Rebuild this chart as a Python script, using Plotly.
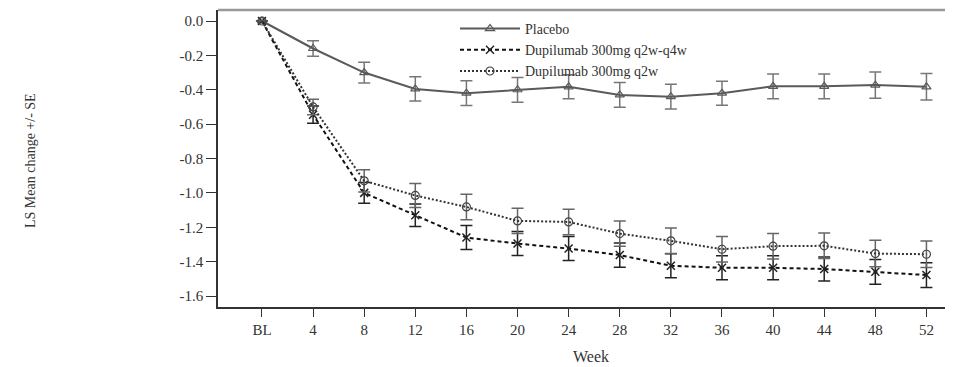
import plotly.graph_objects as go

weeks = ["BL", "4", "8", "12", "16", "20", "24", "28", "32", "36", "40", "44", "48", "52"]

placebo = [0.0, -0.16, -0.30, -0.395, -0.42, -0.40, -0.383, -0.43, -0.44, -0.42, -0.38, -0.38, -0.373, -0.383]
placebo_se = [0.0, 0.045, 0.06, 0.07, 0.072, 0.072, 0.07, 0.072, 0.072, 0.07, 0.072, 0.072, 0.077, 0.077]

q2w_q4w = [0.0, -0.545, -1.00, -1.13, -1.26, -1.295, -1.324, -1.362, -1.424, -1.436, -1.436, -1.443, -1.459, -1.478]
q2w_q4w_se = [0.0, 0.05, 0.06, 0.065, 0.07, 0.07, 0.07, 0.07, 0.07, 0.07, 0.07, 0.07, 0.072, 0.072]

q2w = [0.0, -0.50, -0.93, -1.015, -1.082, -1.163, -1.169, -1.237, -1.279, -1.328, -1.310, -1.308, -1.353, -1.357]
q2w_se = [0.0, 0.045, 0.065, 0.07, 0.074, 0.074, 0.074, 0.074, 0.074, 0.074, 0.074, 0.074, 0.077, 0.077]

y_ticks = [0.0, -0.2, -0.4, -0.6, -0.8, -1.0, -1.2, -1.4, -1.6]
y_ticktext = ["0.0", "-0.2", "-0.4", "-0.6", "-0.8", "-1.0", "-1.2", "-1.4", "-1.6"]

FONT = "Liberation Serif"
TXT = "#333333"

# page body has an 8px default margin: figure is sized/offset to compensate
W, H = 945, 359
L, R, T, B = 210, 1, 2, 60
PW, PH = W - L - R, H - T - B


def px_x(x):
    return (x - 8 - L) / PW


def px_y(y):
    return 1 - (y - 8 - T) / PH


fig = go.Figure()

fig.add_trace(go.Scatter(
    x=weeks, y=placebo, name="Placebo", mode="lines+markers",
    line=dict(color="#5a5a5a", width=2),
    marker=dict(symbol="triangle-up-open", size=8, color="#5a5a5a", line=dict(width=1.2)),
    error_y=dict(type="data", array=placebo_se, color="#777777", thickness=1.5, width=6),
))
fig.add_trace(go.Scatter(
    x=weeks, y=q2w_q4w, name="Dupilumab 300mg q2w-q4w", mode="lines+markers",
    line=dict(color="#111111", width=2, dash="4px,3px"),
    marker=dict(symbol="x-thin-open", size=8, color="#222222", line=dict(width=1.5, color="#222222")),
    error_y=dict(type="data", array=q2w_q4w_se, color="#222222", thickness=1.5, width=6),
))
fig.add_trace(go.Scatter(
    x=weeks, y=q2w, name="Dupilumab 300mg q2w", mode="lines+markers",
    line=dict(color="#333333", width=2, dash="2px,2px"),
    marker=dict(symbol="circle-open", size=8, color="#444444", line=dict(width=1.2)),
    error_y=dict(type="data", array=q2w_se, color="#666666", thickness=1.5, width=6),
))

fig.update_layout(
    width=W, height=H,
    margin=dict(l=L, r=R, t=T, b=B),
    paper_bgcolor="white", plot_bgcolor="white",
    font=dict(family=FONT, size=15, color=TXT),
    showlegend=True,
    legend=dict(
        x=px_x(455), y=px_y(13), xanchor="left", yanchor="top",
        bgcolor="rgba(0,0,0,0)", borderwidth=0,
        font=dict(family=FONT, size=14, color=TXT),
        tracegroupgap=0, itemwidth=60,
    ),
    xaxis=dict(
        type="category", categoryorder="array", categoryarray=weeks,
        range=[-0.86, 13.5],
        showgrid=False, zeroline=False,
        showline=True, linecolor="#333333", linewidth=1.5,
        ticks="outside", ticklen=8, tickwidth=1.2, tickcolor="#333333",
        tickfont=dict(family=FONT, size=15, color=TXT),
    ),
    yaxis=dict(
        range=[-1.664, 0.064],
        tickvals=y_ticks, ticktext=y_ticktext,
        showgrid=False, zeroline=False,
        showline=True, linecolor="#333333", linewidth=1.5,
        ticks="outside", ticklen=10, tickwidth=1.2, tickcolor="#333333",
        tickfont=dict(family=FONT, size=15, color=TXT),
    ),
    shapes=[dict(type="line", xref="paper", yref="paper", x0=0, x1=1, y0=1, y1=1,
                 line=dict(color="#999999", width=2.5))],
    annotations=[
        dict(text="LS Mean change +/- SE", xref="paper", yref="paper",
             x=px_x(30), y=px_y(161), textangle=-90, showarrow=False,
             font=dict(family=FONT, size=14, color=TXT), xanchor="center", yanchor="middle"),
        dict(text="Week", xref="paper", yref="paper",
             x=px_x(591), y=px_y(357), showarrow=False,
             font=dict(family=FONT, size=16, color=TXT), xanchor="center", yanchor="middle"),
    ],
)

fig.write_html("out.html")
